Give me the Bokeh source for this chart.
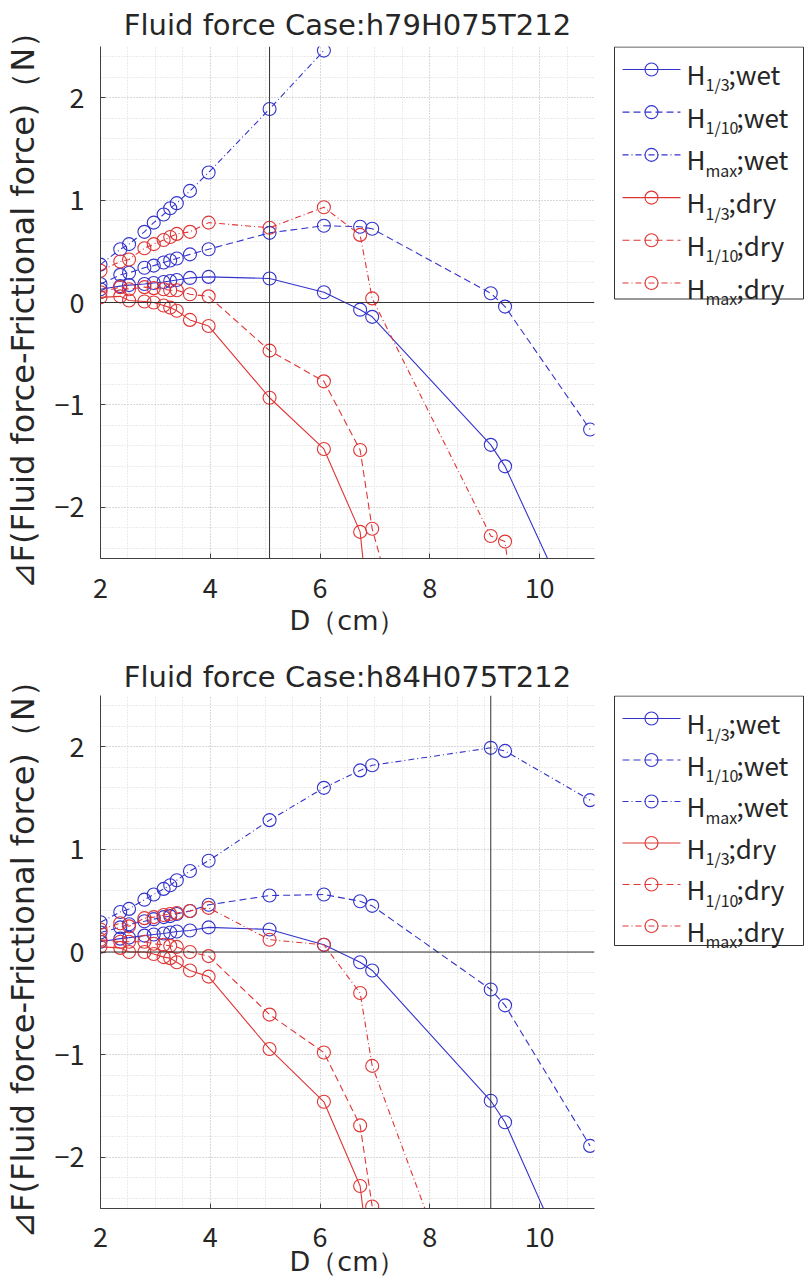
import math
from bokeh.plotting import figure
from bokeh.layouts import row, column
from bokeh.models import Range1d, Span, SingleIntervalTicker
from bokeh.core.properties import value
from bokeh.embed import file_html
from bokeh.resources import INLINE

nan = float("nan")

# ---------------- data ----------------
D = [2.00, 2.36, 2.52, 2.80, 2.97, 3.15, 3.27, 3.39, 3.63, 3.97,
     5.08, 6.07, 6.73, 6.95, 9.11, 9.37, 10.92]

title_top = "Fluid force Case:h79H075T212"
title_bot = "Fluid force Case:h84H075T212"
vline_top = 5.08
vline_bot = 9.11

top_h13_wet = [0.13, 0.16, 0.17, 0.18, 0.19, 0.20, 0.21, 0.22, 0.24, 0.25,
               0.235, 0.10, -0.07, -0.14, -1.39, -1.60, -3.40]
top_h110_wet = [0.18, 0.27, 0.29, 0.34, 0.36, 0.39, 0.41, 0.43, 0.47, 0.52,
                0.68, 0.75, 0.74, 0.72, 0.09, -0.04, -1.24]
top_hmax_wet = [0.37, 0.52, 0.57, 0.69, 0.78, 0.86, 0.92, 0.97, 1.09, 1.27,
                1.89, 2.46, nan, nan, nan, nan, nan]
top_h13_dry = [0.05, 0.06, 0.02, 0.01, 0.00, -0.03, -0.05, -0.08, -0.17, -0.23,
               -0.93, -1.43, -2.24, -3.38, nan, nan, nan]
top_h110_dry = [0.10, 0.15, 0.13, 0.15, 0.14, 0.13, 0.12, 0.12, 0.08, 0.06,
                -0.47, -0.77, -1.44, -2.21, -6.40, nan, nan]
top_hmax_dry = [0.31, 0.40, 0.42, 0.53, 0.57, 0.61, 0.64, 0.67, 0.69, 0.78,
                0.73, 0.93, 0.66, 0.04, -2.28, -2.335, -8.50]

bot_h13_wet = [0.10, 0.13, 0.14, 0.16, 0.17, 0.18, 0.19, 0.20, 0.21, 0.24,
               0.22, 0.07, -0.10, -0.18, -1.45, -1.66, -3.52]
bot_h110_wet = [0.19, 0.24, 0.27, 0.30, 0.32, 0.34, 0.35, 0.37, 0.40, 0.46,
                0.55, 0.56, 0.495, 0.45, -0.365, -0.52, -1.89]
bot_hmax_wet = [0.29, 0.39, 0.42, 0.51, 0.56, 0.615, 0.65, 0.70, 0.79, 0.89,
                1.285, 1.60, 1.77, 1.82, 1.99, 1.96, 1.48]
bot_h13_dry = [0.05, 0.04, 0.00, 0.00, -0.02, -0.05, -0.06, -0.10, -0.18, -0.24,
               -0.945, -1.46, -2.28, -3.25, nan, nan, nan]
bot_h110_dry = [0.12, 0.10, 0.10, 0.10, 0.08, 0.07, 0.06, 0.05, 0.00, -0.04,
                -0.61, -0.98, -1.69, -2.48, nan, nan, nan]
bot_hmax_dry = [0.22, 0.28, 0.25, 0.33, 0.34, 0.36, 0.37, 0.38, 0.40, 0.43,
                0.12, 0.07, -0.40, -1.11, -4.24, nan, nan]

legend_main = ["H", "H", "H", "H", "H", "H"]
legend_sub = ["1/3", "1/10", "max", "1/3", "1/10", "max"]
legend_cond = [";wet", ";wet", ";wet", ";dry", ";dry", ";dry"]

x_ticks_interval = 2
y_ticks_interval = 1
x_label = "D（cm）"
y_label = "⊿F(Fluid force-Frictional force)（N）"

# ---------------- style ----------------
CJK = "Noto Sans CJK JP"
LAT = "DejaVu Sans"
BLUE = "#3333cc"
RED = "#e03535"
DASHES = ["solid", "7 4", "6 3 1 3"]
STYLES = [(BLUE, DASHES[0]), (BLUE, DASHES[1]), (BLUE, DASHES[2]),
          (RED, DASHES[0]), (RED, DASHES[1]), (RED, DASHES[2])]
AXC = "#404040"
TXT = "#262626"

MAIN_W = 600
LEG_W = 209


def make_main(title, series, vline, height, top_b, bot_b, title_standoff,
              tick_standoff, label_standoff):
    p = figure(width=MAIN_W, height=height, x_range=Range1d(2, 11),
               y_range=Range1d(-2.5, 2.5), output_backend="svg",
               toolbar_location=None, min_border_left=98, min_border_right=6,
               min_border_top=top_b, min_border_bottom=bot_b, title=title)
    p.outline_line_color = None
    p.title.align = "center"
    p.title.text_font = LAT
    p.title.text_font_size = "29px"
    p.title.text_font_style = "normal"
    p.title.text_color = TXT
    p.title.standoff = title_standoff

    xt = SingleIntervalTicker(interval=x_ticks_interval, num_minor_ticks=4)
    yt = SingleIntervalTicker(interval=y_ticks_interval, num_minor_ticks=5)
    p.xaxis.ticker = xt
    p.yaxis.ticker = yt
    p.xgrid.ticker = xt
    p.ygrid.ticker = yt
    for g in (p.xgrid, p.ygrid):
        g.grid_line_color = "#c4c4c4"
        g.grid_line_dash = "1 2"
        g.minor_grid_line_color = "#d6d6d6"
        g.minor_grid_line_dash = "1 2"

    for ax in (p.xaxis, p.yaxis):
        ax.axis_line_color = AXC
        ax.major_tick_line_color = AXC
        ax.major_tick_in = 5
        ax.major_tick_out = 0
        ax.minor_tick_line_color = None
        ax.major_label_text_font = CJK
        ax.major_label_text_font_size = "27px"
        ax.major_label_text_color = TXT
        ax.axis_label_text_font = LAT
        ax.axis_label_text_font_style = "normal"
        ax.axis_label_text_color = TXT
    p.xaxis.axis_label = x_label
    p.yaxis.axis_label = y_label
    p.xaxis.axis_label_text_font_size = "27px"
    p.yaxis.axis_label_text_font_size = "32px"
    p.xaxis.major_label_standoff = tick_standoff
    p.xaxis.axis_label_standoff = label_standoff
    p.yaxis.major_label_standoff = 12
    p.yaxis.axis_label_standoff = 10
    p.yaxis.major_label_overrides = {-2: "−2", -1: "−1"}

    p.add_layout(Span(location=0, dimension="width", line_color="#333333", line_width=1))
    p.add_layout(Span(location=vline, dimension="height", line_color="#333333", line_width=1))

    for vals, (col, dash) in zip(series, STYLES):
        p.line(D, vals, line_color=col, line_dash=dash, line_width=1.1)
        p.scatter(D, vals, marker="circle", size=13, fill_color=None,
                  line_color=col, line_width=1.1)
    return p


def make_legend(height, top_b, bot_b, box_top, box_bot, row0, step):
    # this figure's frame is aligned with the main plot's frame; data units = pixels
    lg = figure(width=LEG_W, height=height, x_range=Range1d(0, LEG_W),
                y_range=Range1d(height - bot_b, top_b), output_backend="svg",
                toolbar_location=None, min_border_left=0, min_border_right=0,
                min_border_top=top_b, min_border_bottom=bot_b,
                x_axis_type=None, y_axis_type=None)
    lg.grid.visible = False
    lg.outline_line_color = None
    lg.quad(left=[14], right=[203], top=[box_top], bottom=[box_bot],
            fill_color="white", line_color="#333333", line_width=1)
    sub_w = {"1/3": 23, "1/10": 31, "max": 31}
    for i in range(6):
        col, dash = STYLES[i]
        y = row0 + step * i
        lg.line([22, 80], [y, y], line_color=col, line_dash=dash, line_width=1.1)
        lg.scatter([51], [y], marker="circle", size=13, fill_color=None,
                   line_color=col, line_width=1.1)
        lg.text([86], [y + 4], text=[legend_main[i]], text_font=value(CJK),
                text_font_size="26px", text_color=TXT, text_baseline="alphabetic",
                text_align="left")
        lg.text([105], [y + 15], text=[legend_sub[i]], text_font=value(CJK),
                text_font_size="16px", text_color=TXT, text_baseline="alphabetic",
                text_align="left")
        lg.text([105 + sub_w[legend_sub[i]]], [y + 4], text=[legend_cond[i]],
                text_font=value(CJK), text_font_size="26px", text_color=TXT,
                text_baseline="alphabetic", text_align="left")
    return lg


p1 = make_main(title_top, [top_h13_wet, top_h110_wet, top_hmax_wet,
                           top_h13_dry, top_h110_dry, top_hmax_dry],
               vline_top, 648, 45, 90, 10, 15, 4)
p2 = make_main(title_bot, [bot_h13_wet, bot_h110_wet, bot_hmax_wet,
                           bot_h13_dry, bot_h110_dry, bot_hmax_dry],
               vline_bot, 640, 47, 80, 4, 14, -4)
l1 = make_legend(648, 45, 90, 45.5, 298, 68, 42.8)
l2 = make_legend(640, 47, 80, 47.5, 297, 70, 41.5)

layout = column(row(p1, l1), row(p2, l2))
open("out.html", "w").write(file_html(layout, INLINE))
